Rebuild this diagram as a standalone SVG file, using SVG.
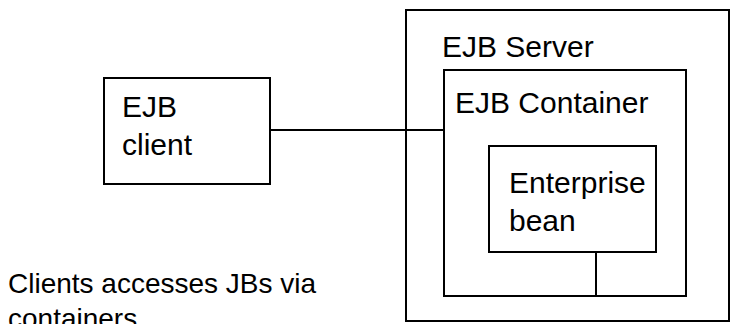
<svg xmlns="http://www.w3.org/2000/svg" width="731" height="324" viewBox="0 0 731 324">
  <style>
    .box { fill: #ffffff; stroke: #000000; stroke-width: 2; }
    .wire { fill: none; stroke: #000000; stroke-width: 2; }
    .lbl { font-family: "Liberation Sans", Arial, sans-serif; font-size: 30px; fill: #000000; }
    .note { font-family: "Liberation Sans", Arial, sans-serif; font-size: 28px; fill: #000000; }
  </style>
  <rect width="731" height="324" fill="#ffffff"/>

  <g id="ejb-server">
    <rect class="box" x="406" y="10" width="323" height="311"/>
    <text class="lbl" x="442" y="57">EJB Server</text>
  </g>

  <g id="ejb-container">
    <rect class="box" x="444" y="70" width="242" height="226"/>
    <text class="lbl" x="455" y="113">EJB Container</text>
  </g>

  <g id="enterprise-bean">
    <rect class="box" x="489" y="146" width="167" height="106"/>
    <text class="lbl" x="509" y="193">Enterprise</text>
    <text class="lbl" x="509" y="231">bean</text>
  </g>

  <g id="ejb-client">
    <rect class="box" x="104" y="78" width="166" height="106"/>
    <text class="lbl" x="122" y="117">EJB</text>
    <text class="lbl" x="122" y="155">client</text>
  </g>

  <g id="connectors">
    <path class="wire" d="M270,130 H444"/>
    <path class="wire" d="M596,252 V296"/>
  </g>

  <g id="caption">
    <text class="note" x="8" y="293">Clients accesses JBs via</text>
    <text class="note" x="8" y="328">containers</text>
  </g>
</svg>
